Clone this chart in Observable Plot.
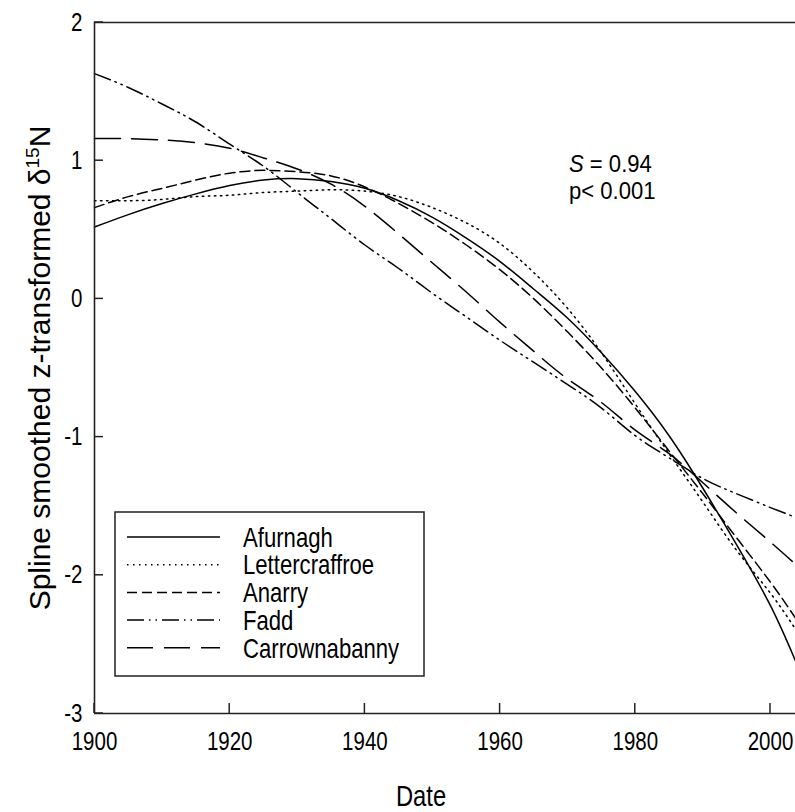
<!DOCTYPE html>
<html><head><meta charset="utf-8">
<script src="https://cdn.jsdelivr.net/npm/d3@7"></script>
<script src="https://cdn.jsdelivr.net/npm/@observablehq/plot@0.6"></script>
<style>
html,body{margin:0;padding:0;background:#fff;}
</style></head><body><div id="chart"></div>
<script>
const years = [1900,1905,1910,1915,1920,1925,1930,1935,1940,1945,1950,1955,1960,1965,1970,1975,1980,1985,1990,1995,2000,2003.7];
const afurnagh      = [0.52,0.61,0.69,0.76,0.82,0.86,0.87,0.85,0.80,0.71,0.59,0.44,0.27,0.07,-0.14,-0.39,-0.67,-0.99,-1.37,-1.78,-2.22,-2.62];
const lettercraffroe= [0.71,0.71,0.72,0.74,0.75,0.77,0.78,0.79,0.78,0.74,0.66,0.55,0.40,0.19,-0.07,-0.39,-0.76,-1.12,-1.47,-1.82,-2.13,-2.39];
const anarry        = [0.66,0.74,0.80,0.86,0.91,0.93,0.92,0.89,0.81,0.69,0.55,0.39,0.21,0.00,-0.24,-0.50,-0.79,-1.10,-1.41,-1.73,-2.05,-2.31];
const fadd          = [1.63,1.53,1.41,1.28,1.12,0.96,0.77,0.58,0.39,0.22,0.04,-0.13,-0.30,-0.46,-0.62,-0.79,-0.99,-1.15,-1.30,-1.41,-1.51,-1.58];
const carrownabanny = [1.16,1.16,1.15,1.13,1.09,1.02,0.94,0.83,0.67,0.47,0.26,0.05,-0.17,-0.38,-0.58,-0.75,-0.95,-1.12,-1.33,-1.55,-1.76,-1.92];

const seriesNames = ["Afurnagh","Lettercraffroe","Anarry","Fadd","Carrownabanny"];
const seriesValues = [afurnagh, lettercraffroe, anarry, fadd, carrownabanny];
const dashes = [null, "1.5,4.5", "10,5", "17,5,1.5,5,1.5,5", "26,11"];
const xTicks = [1900,1920,1940,1960,1980,2000];
const yTicks = [-3,-2,-1,0,1,2];

const font = "'Liberation Sans',Arial,sans-serif";
const SQ = 0.82; // horizontal squeeze of the reference's lettering

const rows = [];
seriesNames.forEach((name, i) => seriesValues[i].forEach((v, j) => rows.push({name, year: years[j], value: v})));

const chart = Plot.plot({
  width: 795, height: 812,
  marginLeft: 94, marginRight: 0, marginTop: 22, marginBottom: 99,
  style: {fontFamily: font, fontSize: "25px", background: "#fff", color: "#000"},
  x: {domain: [1900, 2003.7], label: null},
  y: {domain: [-3, 2], label: null},
  marks: [
    Plot.axisX({ticks: xTicks, tickFormat: d => String(d), tickSize: 0, tickPadding: 19, fontSize: 25, fill: "#000"}),
    Plot.axisY({ticks: yTicks, tickFormat: d => String(d), tickSize: 0, tickPadding: 12, fontSize: 25, fill: "#000"}),
    ...seriesNames.map((name, i) => Plot.line(rows.filter(r => r.name === name), {
      x: "year", y: "value", curve: "natural", stroke: "#000", strokeWidth: 1.5,
      strokeDasharray: dashes[i] ?? undefined
    })),
    Plot.ruleY([2, -3], {stroke: "#222", strokeWidth: 1.6}),
    Plot.ruleX([1900], {stroke: "#222", strokeWidth: 1.6})
  ]
});
document.getElementById("chart").appendChild(chart);

const svg = d3.select(chart);
// squeeze tick labels horizontally like the reference lettering
svg.selectAll('g[aria-label="x-axis tick label"] text, g[aria-label="y-axis tick label"] text')
  .attr("transform", function() { return (this.getAttribute("transform") || "") + ` scale(${SQ},1)`; });

const xs = chart.scale("x"), ys = chart.scale("y");
const x0 = xs.apply(1900), yBottom = ys.apply(-3);

// inward tick marks
const tg = svg.append("g").attr("stroke", "#222").attr("stroke-width", 1.5);
yTicks.forEach(v => tg.append("line").attr("x1", x0).attr("x2", x0 + 9).attr("y1", ys.apply(v)).attr("y2", ys.apply(v)));
xTicks.forEach(v => tg.append("line").attr("x1", xs.apply(v)).attr("x2", xs.apply(v)).attr("y1", yBottom).attr("y2", yBottom - 10));

// axis titles
svg.append("text").attr("transform", `translate(421,806) scale(${SQ},1)`).attr("text-anchor", "middle")
  .attr("font-family", font).attr("font-size", 29).attr("fill", "#000").text("Date");
const yl = svg.append("text").attr("transform", "translate(50,368) rotate(-90)").attr("text-anchor", "middle")
  .attr("font-family", font).attr("font-size", 30).attr("fill", "#000");
yl.append("tspan").text("Spline smoothed z-transformed \u03b4");
yl.append("tspan").attr("font-size", 19).attr("dy", -11).text("15");
yl.append("tspan").attr("dy", 11).text("N");

// annotation
const an = svg.append("text").attr("transform", `translate(569,172) scale(0.92,1)`).attr("text-anchor", "start")
  .attr("font-family", font).attr("font-size", 24).attr("fill", "#000");
an.append("tspan").attr("font-style", "italic").text("S");
an.append("tspan").text(" = 0.94");
svg.append("text").attr("transform", `translate(569,199) scale(0.92,1)`).attr("text-anchor", "start")
  .attr("font-family", font).attr("font-size", 24).attr("fill", "#000").text("p< 0.001");

// legend
const lg = svg.append("g");
lg.append("rect").attr("x", 115).attr("y", 512).attr("width", 309).attr("height", 164)
  .attr("fill", "#fff").attr("stroke", "#222").attr("stroke-width", 1.5);
seriesNames.forEach((name, i) => {
  const cy = 537 + i * 27.7;
  lg.append("line").attr("x1", 127).attr("x2", 220).attr("y1", cy).attr("y2", cy)
    .attr("stroke", "#000").attr("stroke-width", 1.5).attr("stroke-dasharray", dashes[i]);
  lg.append("text").attr("transform", `translate(243,${cy}) scale(${SQ},1)`).attr("dy", "0.36em").attr("text-anchor", "start")
    .attr("font-family", font).attr("font-size", 27).attr("fill", "#000").text(name);
});
</script>
</body></html>
